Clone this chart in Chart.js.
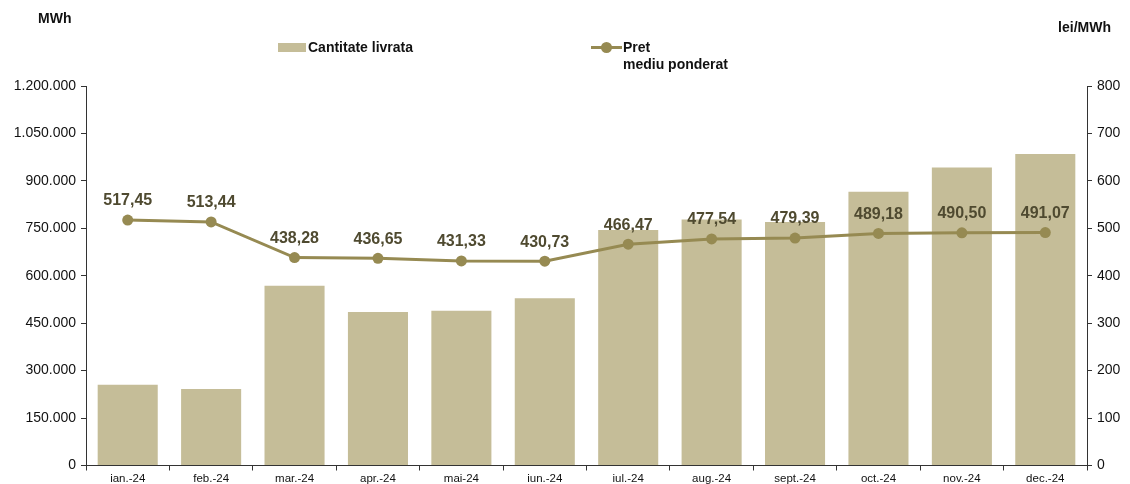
<!DOCTYPE html>
<html>
<head>
<meta charset="utf-8">
<script src="https://cdn.jsdelivr.net/npm/chart.js@4.4.1/dist/chart.umd.min.js"></script>
<style>
  body { margin: 0; background: #fff; font-family: "Liberation Sans", Arial, sans-serif; }
  #wrap { position: relative; width: 1130px; height: 484px; }
  .lbl { position: absolute; font-weight: bold; font-size: 14px; color: #111; line-height: 15px; white-space: nowrap; }
  .swatch { position: absolute; }
</style>
</head>
<body>
<div id="wrap">
  <canvas id="chart" width="1130" height="484"></canvas>
  <div class="lbl" style="left:38px;top:11px;">MWh</div>
  <div class="lbl" style="right:19px;top:20px;">lei/MWh</div>
  <div class="swatch" style="left:278px;top:43px;width:28px;height:9px;background:#c5bd98;"></div>
  <div class="lbl" style="left:308px;top:40px;">Cantitate livrata</div>
  <div class="swatch" style="left:591px;top:46px;width:31px;height:3px;background:#968a52;"></div>
  <div class="swatch" style="left:601px;top:42px;width:11px;height:11px;border-radius:50%;background:#968a52;"></div>
  <div class="lbl" style="left:623px;top:39px;line-height:17px;">Pret<br>mediu ponderat</div>
</div>
<script>
const months = ["ian.-24", "feb.-24", "mar.-24", "apr.-24", "mai-24", "iun.-24",
  "iul.-24", "aug.-24", "sept.-24", "oct.-24", "nov.-24", "dec.-24"];
const quantity = [255000, 242000, 568000, 485000, 489000, 529000,
  745000, 778000, 770000, 866000, 942000, 985000];
const price = [517.45, 513.44, 438.28, 436.65, 431.33, 430.73,
  466.47, 477.54, 479.39, 489.18, 490.50, 491.07];

const barColor = "#c5bd98";
const lineColor = "#968a52";
const font = "'Liberation Sans', Arial, sans-serif";

// thousands with dots, like 1.200.000
const fmtDots = (v) => String(v).replace(/\B(?=(\d{3})+(?!\d))/g, ".");

const priceLabels = {
  id: "priceLabels",
  afterDatasetsDraw(chart) {
    const ctx = chart.ctx;
    const meta = chart.getDatasetMeta(0);
    ctx.save();
    ctx.font = "bold 16px " + font;
    ctx.fillStyle = "#4f4a30";
    ctx.textAlign = "center";
    ctx.textBaseline = "middle";
    meta.data.forEach((pt, i) => {
      ctx.fillText(price[i].toFixed(2).replace(".", ","), pt.x, pt.y - 19);
    });
    ctx.restore();
  }
};

new Chart(document.getElementById("chart"), {
  data: {
    labels: months,
    datasets: [
      {
        type: "line",
        label: "Pret mediu ponderat",
        data: price,
        yAxisID: "y1",
        borderColor: lineColor,
        backgroundColor: lineColor,
        borderWidth: 3,
        pointRadius: 5.5,
        pointBackgroundColor: lineColor,
        pointBorderWidth: 0,
        tension: 0,
        order: 0
      },
      {
        type: "bar",
        label: "Cantitate livrata",
        data: quantity,
        yAxisID: "y",
        backgroundColor: barColor,
        barPercentage: 0.72,
        categoryPercentage: 1,
        order: 1
      }
    ]
  },
  options: {
    responsive: false,
    animation: false,
    layout: { padding: { top: 86, left: 0, right: 0, bottom: 0 } },
    plugins: { legend: { display: false }, tooltip: { enabled: false } },
    scales: {
      x: {
        grid: { drawOnChartArea: false, drawTicks: true, tickLength: 5, color: "#333", offset: true },
        border: { display: true, color: "#333", width: 1 },
        ticks: { color: "#111", font: { family: font, size: 11.5 }, padding: 1, maxRotation: 0 },
        afterFit: (s) => { s.height = 18.5; }
      },
      y: {
        position: "left",
        min: 0, max: 1200000,
        grid: { drawOnChartArea: false, drawTicks: true, tickLength: 5, color: "#333" },
        border: { display: true, color: "#333", width: 1 },
        ticks: { stepSize: 150000, color: "#111", font: { family: font, size: 14 }, padding: 5,
          callback: (v) => fmtDots(v) },
        afterFit: (s) => { s.width = 86; }
      },
      y1: {
        position: "right",
        min: 0, max: 800,
        grid: { drawOnChartArea: false, drawTicks: true, tickLength: 5, color: "#333" },
        border: { display: true, color: "#333", width: 1 },
        ticks: { stepSize: 100, color: "#111", font: { family: font, size: 14 }, padding: 5 },
        afterFit: (s) => { s.width = 43; }
      }
    }
  },
  plugins: [priceLabels]
});
</script>
</body>
</html>
